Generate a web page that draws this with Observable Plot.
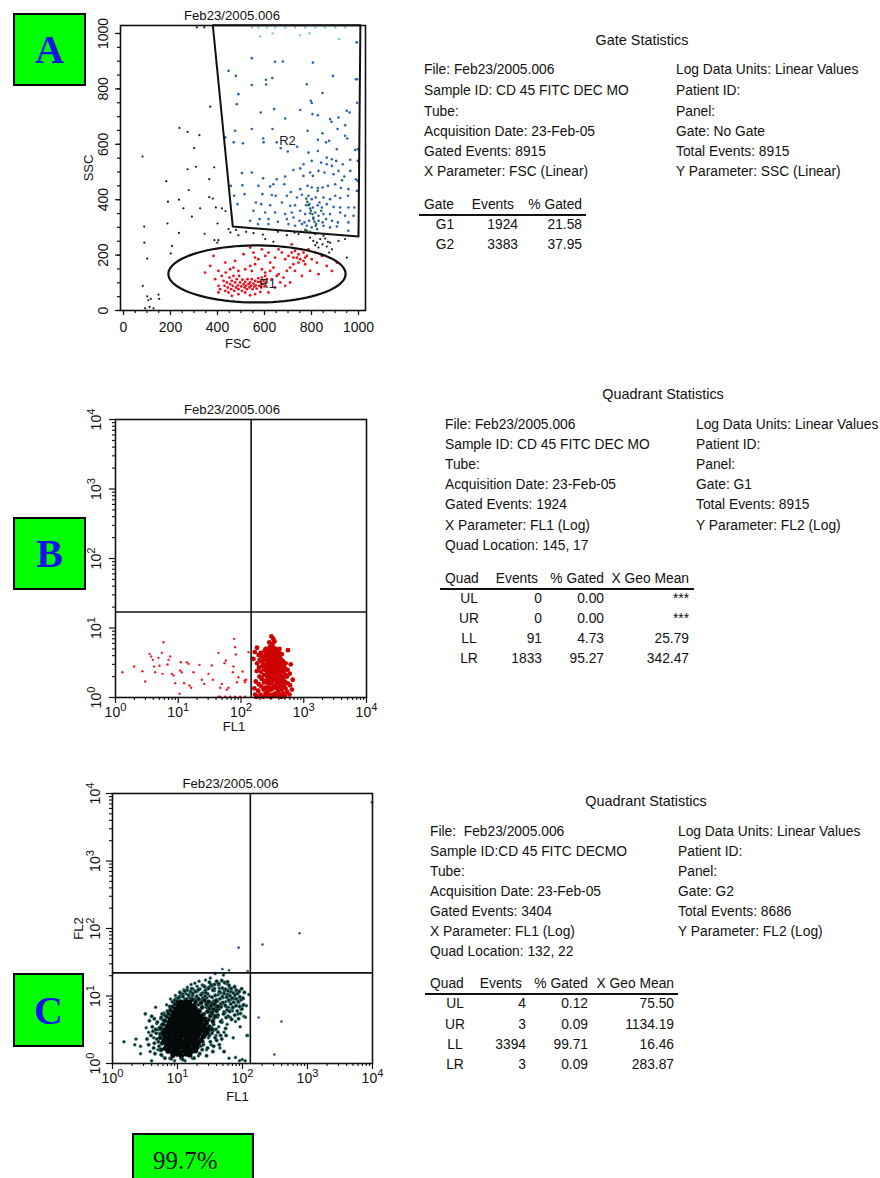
<!DOCTYPE html>
<html><head><meta charset="utf-8">
<script src="https://cdn.jsdelivr.net/npm/d3@7"></script>
<script src="https://cdn.jsdelivr.net/npm/@observablehq/plot@0.6"></script>
<style>
html,body{margin:0;padding:0;background:#fff;}
#page{position:relative;width:880px;height:1178px;overflow:hidden;font-family:"Liberation Sans",Arial,Helvetica,sans-serif;color:#111;}
.abs{position:absolute;white-space:pre;}
.badge{position:absolute;background:#00ff00;border:2px solid #000;box-sizing:border-box;font-family:"Liberation Serif","Times New Roman",serif;font-weight:bold;color:#1414e6;display:flex;align-items:center;justify-content:center;}
.panel{position:absolute;left:0;}
.rule{position:absolute;height:2px;background:#111;}
</style></head><body><div id="page"></div>
<script>
// ---------- Panel A: FSC / SSC (linear), gates R1 and R2 ----------
const fileName = "Feb23/2005.006";
const linTicks = [0, 200, 400, 600, 800, 1000];
const linMinor = [0,50,100,150,200,250,300,350,400,450,500,550,600,650,700,750,800,850,900,950,1000];

// events outside both gates
const eventsOther = [
[81,556],[238,659],[273,645],[323,633],[301,586],[369,736],[273,510],[308,519],[386,517],[365,474],[182,467],[278,435],[189,393],[236,400],[365,409],[380,404],[326,369],[255,369],[393,372],[419,369],[291,339],[187,314],[345,277],[236,280],[88,303],[400,314],[434,359],[89,245],[206,233],[101,187],[201,206],[82,89],
[101,51],[106,37],[116,42],[92,8],[111,13],[128,8],[149,57],[152,42],
[447,294],[455,282],[479,291],[522,284],[553,279],[593,274],[657,284],[695,272],[728,281],[745,276],[780,288],[387,254],[404,254],[399,245],
[794,263],[808,251],[823,245],[837,258],[847,239],[858,260],[870,248],[865,231],[879,245],[830,227],[816,236],[887,221],[875,209],[950,191],[915,251],[943,258],[851,270],
[489,272],[603,258],[638,248],[312,1022],[344,1022]
];
// events in R2 (granulocyte region)
const eventsR2High = [
[546,1022],[574,1022],[610,1022],[645,1022],[688,1022],[730,1022],[773,1022],[816,1022],[858,1022],[901,1022],[943,1022],
[582,989],[634,1000],[752,994],[791,1001],[918,980],[989,968]
];
const eventsR2 = [
[546,911],[645,898],[678,899],[806,895],[447,865],[478,847],[546,814],[606,833],[633,839],[607,816],[780,817],[891,847],[989,835],[847,785],[797,757],[801,749],[489,781],[482,745],[584,715],[641,727],[752,724],[804,709],[827,705],[950,721],[962,715],[688,693],[879,691],[915,697],[885,681],[943,669],[911,655],
[433,625],[475,649],[546,655],[634,655],[469,607],[508,604],[594,621],[596,607],[652,607],[783,649],[827,616],[847,640],[875,613],[862,607],[943,631],[952,621],[986,580],[699,574],[669,586],[739,591],[787,570],[827,576],[908,582],[865,552],[887,546],[933,528],[965,544],[997,540],[766,528],[801,540],[841,534],[865,528],[887,522],
[504,496],[546,498],[594,477],[652,474],[688,484],[723,507],[752,513],[766,486],[794,498],[806,486],[830,504],[855,498],[894,492],[915,504],[940,484],[965,504],[989,474],
[457,450],[506,452],[574,450],[624,448],[638,456],[684,456],[712,428],[752,438],[783,450],[801,444],[827,442],[847,444],[870,450],[901,456],[925,442],[957,438],[993,432],
[471,414],[515,420],[591,420],[631,417],[648,414],[695,414],[738,408],[759,418],[787,414],[801,402],[818,408],[834,390],[851,408],[879,402],[901,414],[922,406],[955,414],
[485,384],[563,390],[586,384],[624,380],[674,390],[709,378],[730,380],[777,380],[791,384],[806,372],[826,380],[844,372],[865,384],[894,374],[922,372],[957,372],[982,372],
[553,360],[603,354],[645,354],[688,348],[716,354],[752,360],[773,348],[794,351],[816,354],[830,342],[851,348],[879,348],[922,354],[943,342],[979,342],
[539,324],[579,330],[617,330],[657,320],[695,330],[723,336],[749,324],[770,318],[790,324],[808,330],[830,324],[847,318],[887,324],[912,318],[957,318],
[572,312],[617,312],[702,312],[730,306],[759,312],[780,306],[801,300],[820,312],[851,306],[879,300],[908,303],[957,288],
[993,968],[994,835],[997,582],[996,468],[994,750]
];
const eventsR2Dense = [
[778,404],[782,392],[787,380],[794,368],[798,360],[804,348],[808,336],[813,320],[818,306],[824,294],
[773,291],[794,284],[816,276],[756,284],[841,360],[862,330],[826,432],[905,540],[930,470]
];
// events in R1 (lymphocyte region)
const eventsR1 = [
[390,113],[404,89],[411,77],[418,125],[426,107],[430,89],[433,71],[435,137],[440,101],[444,83],[447,65],[451,119],[454,95],[458,77],[461,107],[465,89],[468,125],[471,71],[475,101],[479,83],[482,113],[487,91],[489,77],[492,125],[496,101],[501,87],[504,71],[506,111],[511,95],[515,83],[518,103],[521,89],[525,77],[528,113],[532,95],[536,83],[539,101],[543,89],[546,113],[549,77],[553,97],[557,86],[560,107],[563,91],[567,79],[572,103],[574,116],[577,89],[582,103],[586,83],[589,119],[591,95],[596,107],[600,87],[603,125],[606,101],[610,113],
[433,173],[468,155],[489,143],[518,149],[539,161],[560,167],[546,143],[589,149],[603,137],[624,143],[638,155],[660,131],[681,119],[695,143],[709,155],[723,167],[745,173],[766,179],[780,197],[801,185],[823,173],[844,197],[865,161],[887,143],[908,173],[702,197],[716,209],[730,215],[745,203],[756,221],[766,209],[773,191],[738,191],[752,185],[723,191],[688,185],[674,209],[645,191],[624,173],[603,197],[574,185],[553,209],[539,227],[511,203],[475,179],[454,149],[404,143],[369,161],[383,197],[347,137],[404,65],[617,65],[645,83],[667,101],[688,89],[709,101],[631,113],[652,125],[759,125],[794,143],[830,131],[816,209],[787,221],[716,239],[660,221],[617,209],[589,221],[560,191],[773,167],[730,143],[461,53],[489,59],[518,65],[560,59],[539,55],[582,67]
];
// gate definitions (FSC, SSC)
const gateR2 = [[380,1030],[465,303],[1000,267],[1008,1030]];
const gateR1Center = [568, 132];
const gateR1Radii = [377, 103];
const gateNames = ["R2", "R1"];
const gateLabelPos = [[698, 614], [613, 97]];

// ---------- Panel B: FL1 / FL2 (log), gate G1 ----------
const decades = [1, 10, 100, 1000, 10000];
const decadeLabels = ["10\u2070", "10\u00b9", "10\u00b2", "10\u00b3", "10\u2074"];
const quadB = [145, 17];
const eventsB_LL = [
[1.29,2.31],[1.98,2.79],[2.69,2.39],[2.97,1.70],[3.48,4.25],[3.70,3.89],[3.94,3.48],[4.13,2.79],[4.29,2.31],[4.84,3.72],[5.02,2.86],[5.48,4.39],[5.82,6.25],[5.61,2.19],[6.74,2.98],[6.99,3.48],[7.43,3.89],[7.90,2.19],[8.40,2.07],[8.93,1.61],[10.5,1.13],[11.0,3.22],[10.7,2.45],[11.4,2.31],[12.4,1.61],[13.7,3.22],[14.6,3.05],[15.1,1.49],[16.1,1.38],[17.5,2.31],[21.8,2.95],[23.8,1.80],[25.9,1.57],[30.3,2.19],[34.3,2.89],[35.6,1.80],[43.8,4.39],[46.6,1.38],[49.5,1.57],[54.6,3.12],[57.3,3.41],[59.4,1.29],[63.2,1.38],[74.1,2.31],[75.9,2.79],[77.8,6.98],[80.7,5.30],[82.7,4.16],[85.9,1.66],[91.2,1.96],[106,2.37],[114,1.76],[116,1.66],[121,1.80],[132,4.49],[46.6,1.03],[43.8,1.03],[55.9,1.03],[67.2,1.03],[80.7,1.03],[97.0,1.03],[116,1.03]
];
const eventsB_LR = [
[168,1.1],[172,1.7],[178,2.4],[181,3.1],[163,1.35],[176,1.02],
[188,1.25],[192,1.55],[197,2.0],[194,2.7],[199,3.5],[191,4.1],[186,1.05],
[205,1.1],[211,1.45],[214,1.85],[209,2.35],[217,2.8],[212,3.3],[219,3.9],[207,4.4],
[226,1.02],[229,1.3],[234,1.65],[231,2.1],[237,2.55],[228,3.0],[236,3.5],[233,4.0],[238,4.7],
[246,1.15],[251,1.4],[248,1.75],[254,2.15],[245,2.5],[252,2.95],[256,3.4],[249,3.95],[255,4.5],[247,5.0],
[264,1.05],[267,1.25],[271,1.6],[266,1.95],[273,2.3],[269,2.75],[275,3.15],[262,3.7],[270,4.3],[276,4.9],
[283,1.1],[287,1.4],[281,1.75],[289,2.05],[285,2.45],[291,2.85],[282,3.3],[288,3.85],[293,4.55],[286,5.3],
[298,1.02],[303,1.3],[300,1.6],[306,1.95],[297,2.25],[304,2.6],[309,3.0],[301,3.45],[307,4.15],[299,4.85],[305,5.5],
[316,1.1],[321,1.35],[314,1.7],[324,2.05],[318,2.45],[326,2.9],[313,3.35],[322,3.8],[317,4.5],[325,5.15],[319,5.9],
[333,1.05],[338,1.45],[331,1.8],[340,2.3],[336,2.65],[343,3.05],[334,3.6],[341,4.1],[337,4.7],
[352,1.15],[357,1.5],[350,1.85],[360,2.2],[354,2.6],[362,3.15],[349,3.7],[358,4.35],[355,5.05],
[371,1.05],[376,1.35],[369,1.7],[379,2.1],[373,2.5],[381,2.95],[368,3.5],[377,4.0],[372,4.75],
[394,1.2],[399,1.55],[391,1.9],[402,2.35],[396,2.8],[404,3.3],[390,3.9],[400,4.45],
[415,1.1],[421,1.4],[418,1.75],[425,2.2],[412,2.6],[423,3.1],[417,3.7],
[440,1.02],[446,1.3],[438,1.65],[450,2.0],[443,2.45],[452,2.9],[436,3.5],[447,4.2],
[470,1.15],[478,1.5],[466,1.9],[481,2.3],[474,2.8],[468,3.3],
[503,1.05],[512,1.35],[498,1.7],[517,2.1],[507,2.6],[514,3.1],
[545,1.2],[556,1.6],[540,2.0],[552,2.5],
[594,1.1],[605,1.5],[598,2.2],
[648,1.3],[668,1.8],
[305,7.6],[326,7.0],[342,6.4],[282,6.2],[560,4.8],[166,4.5],[158,3.6],[180,5.2],[410,5.0],[620,3.0]
];

// ---------- Panel C: FL1 / FL2 (log), gate G2 ----------
const quadC = [132, 22];
const eventsC_outer = [
[1.5,2.1],[2.2,1.9],[2.7,1.8],[3.2,5.5],[3.3,3.4],[3.6,2.9],[3.8,1.5],[4.0,1.1],[4.3,2.4],[4.6,6.8],[4.8,3.9],[5.0,1.6],[5.3,2.8],[5.5,4.6],[5.8,1.3],[6.0,3.3],[6.2,5.6],[6.4,2.1],[6.8,7.4],[6.9,1.5],[7.1,4.2],[7.3,2.6],[7.6,1.2],[7.8,9.0],[8.0,3.0],[8.2,5.8],[8.5,1.8],[8.8,7.6],[9.0,1.1],[9.3,10.2],[9.5,2.3],[9.8,4.8],[10.2,1.4],[10.5,8.8],[10.8,11.5],[11.2,1.2],[11.8,9.9],[12.5,12.4],[13.0,1.1],[13.5,10.8],[14.2,13.5],[15.0,1.3],[15.5,11.8],[16.2,14.8],[17.0,1.2],[17.5,12.6],[18.5,15.5],[19.0,1.5],[20.0,13.9],[21.0,1.3],[21.5,16.6],[22.5,10.6],[23.0,1.8],[24.0,14.6],[25.0,2.1],[26.0,11.5],[27.0,17.2],[28.0,1.6],[29.0,13.2],[30.0,2.4],[31.0,10.0],[32.0,18.5],[33.0,1.9],[34.0,14.0],[35.0,3.0],[36.0,8.5],[37.0,12.0],[38.0,21.5],[39.0,2.6],[40.0,16.0],[41.0,6.2],[42.0,10.4],[43.0,3.5],[44.0,13.0],[45.0,1.7],[46.0,7.8],[47.0,11.2],[48.0,4.4],[50.0,9.4],[51.0,20.5],[52.0,2.9],[53.0,12.5],[54.0,5.6],[55.0,8.2],[57.0,15.2],[58.0,3.8],[60.0,10.6],[61.0,6.8],[62.0,1.2],[63.0,13.4],[65.0,4.8],[66.0,8.8],[68.0,11.8],[70.0,6.0],[72.0,2.4],[74.0,9.6],[76.0,14.0],[78.0,4.2],[80.0,7.4],[82.0,11.0],[85.0,5.4],[88.0,8.0],[90.0,1.1],[92.0,3.5],[95.0,6.4],[100.0,9.5],[105.0,5.0],[110.0,1.1],[115.0,7.2],[120.0,2.6],[125.0,10.5],
[111,4.85],[100,7.2],[78,1.23],[99,1.15],[117,2.6],[2.3,2.3],[2.7,1.4],[3.2,5.4]
];
const eventsC_mid = [
[30,4.4],[33,5.2],[35,6.1],[38,7.3],[31,8.2],[28,6.8],[26,5.5],[36,3.8],[41,4.9],[44,6.5],[40,8.8],[47,7.6],[52,5.8],[49,9.8],[56,7.0],[58,10.4],[45,11.2],[34,9.6],[29,10.8],[24,8.6],[22,6.2],[27,12.2],[37,12.8],[53,12.0],[62,8.4],[66,11.6],[70,6.6],[60,5.0],[39,3.2],[33,3.4],[23,4.8],[21,7.4],[19,9.2],[17,10.2],[15,9.6],[13,9.0],[16,11.4],[20,11.8],[12,10.6],[25,14.2],[31,13.6],[43,14.6],[48,4.1],[55,3.3],[64,6.0],[73,9.2],[5.6,1.35],[5.2,1.8],[4.8,2.3],[5.4,2.7],[5.0,3.2],[5.7,3.7],[6.0,4.4],[4.4,2.0],[4.2,3.0],[6.3,5.2],[7.0,6.0],[7.6,7.0],[8.4,8.2],[9.6,9.2],[10.8,9.8],[35,1.5],[28,1.3],[24,1.6],[40,2.2],[46,2.6],[31,2.6],[26,3.6],[18,1.2],[12,1.15],[8,1.18],
[32,5.8],[34,7.9],[36,4.6],[38,10.2],[39,6.6],[41,8.4],[42,5.2],[44,11.6],[45,9.1],[46,4.2],[47,6.9],[49,13.1],[50,8.0],[51,5.4],[52,10.9],[54,7.3],[55,12.6],[56,4.8],[57,9.6],[58,6.2],[60,11.9],[61,8.7],[62,14.4],[63,5.9],[64,10.1],[66,7.6],[67,12.9],[68,4.5],[69,9.3],[71,6.8],[72,11.1],[73,8.1],[75,13.6],[76,5.2],[77,10.4],[79,7.1],[80,12.2],[81,9.0],[83,6.0],[84,10.9],[86,8.3],[87,4.6],[89,11.7],[90,7.0],[91,9.7],[93,5.5],[95,8.8],[97,12.8],[98,6.4],[102,9.2],[104,7.4],[107,11.3],[35,12.2],[37,14.8],[40,16.5],[43,15.3],[48,16.9],[53,15.8],[59,16.2],[28,9.4],[29,7.2],[27,11.2],[30,12.9],[33,14.6],[24,11.0],[22,12.7],[26,13.8],[31,15.9],
[9.0,8.6],[10.3,9.4],[11.2,8.4],[12.1,9.8],[13.8,8.9],[14.8,10.3],[15.9,9.2],[17.2,10.9],[18.6,8.7],[19.8,9.9],[21.3,8.9],[23.1,10.4],[24.7,9.3],[26.5,9.9],[14.0,12.2],[16.5,12.8],[18.9,11.6],[21.0,12.4],[11.0,11.2],[12.9,11.8],
[3.6,1.9],[3.9,2.6],[4.1,3.5],[4.5,1.4],[4.7,2.8],[4.9,4.1],[5.1,2.1],[5.3,3.4],[5.5,1.6],[5.6,4.8],[5.9,2.5],[6.1,3.8],[3.7,4.3],[4.3,1.7],[4.6,3.2],[5.8,5.4],[6.4,1.2],[3.4,2.3],[4.0,5.0],[4.4,4.6],
[22,1.4],[25,1.9],[27,2.6],[29,1.7],[32,2.1],[34,2.8],[36,1.8],[38,2.4],[42,2.9],[44,1.9],[48,2.3],[52,1.5],[56,2.6],[30,3.0],[24,2.5]
];
// transition zone between the dense core and the outer cloud
const eventsC_shoulder = [
[24,3.0],[26,3.4],[28,3.9],[30,4.5],[32,5.1],[27,4.6],[25,5.3],[29,5.9],[31,6.6],[34,5.6],[36,6.3],[33,7.2],[28,7.6],[24,6.8],[22,6.0],[23,7.9],[26,8.6],[30,8.2],[35,4.2],[38,5.0],[37,7.6],[40,6.0],[42,7.0],[39,8.4],[21,9.0],[19,8.2],[17,8.8],[31,3.5],[34,3.2],[29,2.8],[26,2.6],
[5.6,1.6],[5.8,2.0],[5.4,2.4],[5.9,2.9],[5.5,3.3],[6.0,3.8],[6.4,4.3],[6.9,4.9],[7.3,5.5],[7.8,6.2],[8.4,6.9],[9.2,7.6],[10.0,8.2]
];
const eventsC_core = [
[8.5,1.33],[10.0,1.37],[11.5,1.31],[13.5,1.38],[15.5,1.34],
[7.2,1.52],[8.4,1.47],[9.6,1.54],[11.0,1.49],[12.6,1.53],[14.4,1.46],[16.5,1.51],[19.0,1.55],
[6.5,1.68],[7.6,1.73],[8.8,1.66],[10.1,1.71],[11.6,1.75],[13.2,1.69],[15.1,1.72],[17.3,1.67],[20.0,1.74],
[6.8,1.93],[7.9,1.98],[9.1,1.91],[10.4,1.96],[11.9,2.0],[13.6,1.92],[15.6,1.97],[17.9,1.94],[21.0,1.99],
[6.2,2.18],[7.3,2.23],[8.4,2.16],[9.7,2.21],[11.1,2.25],[12.7,2.17],[14.6,2.22],[16.8,2.19],[19.4,2.24],[23.0,2.2],
[6.6,2.47],[7.7,2.53],[8.9,2.45],[10.2,2.51],[11.7,2.56],[13.4,2.48],[15.4,2.52],[17.7,2.46],[20.5,2.54],[25.0,2.5],
[6.1,2.82],[7.1,2.88],[8.2,2.8],[9.4,2.86],[10.8,2.91],[12.4,2.83],[14.2,2.87],[16.3,2.81],[18.8,2.89],[22.0,2.84],[27.0,2.86],
[6.5,3.16],[7.6,3.23],[8.8,3.14],[10.1,3.2],[11.6,3.26],[13.3,3.17],[15.3,3.22],[17.6,3.15],[20.3,3.24],[24.0,3.19],[29.0,3.21],
[7.0,3.55],[8.1,3.63],[9.3,3.57],[10.7,3.61],[12.3,3.66],[14.1,3.54],[16.2,3.62],[18.7,3.58],[21.6,3.64],[25.5,3.6],
[7.4,4.0],[8.6,4.09],[9.9,4.02],[11.4,4.07],[13.1,4.12],[15.0,3.98],[17.2,4.06],[19.8,4.03],[23.0,4.1],[27.5,4.04],
[7.8,4.5],[9.0,4.6],[10.4,4.52],[12.0,4.57],[13.8,4.62],[15.9,4.49],[18.3,4.56],[21.1,4.53],[24.5,4.58],
[8.3,5.05],[9.6,5.14],[11.0,5.07],[12.7,5.12],[14.6,5.17],[16.8,5.04],[19.3,5.11],[22.3,5.08],
[8.8,5.7],[10.1,5.8],[11.7,5.72],[13.4,5.78],[15.4,5.83],[17.7,5.69],[20.4,5.76],
[9.4,6.4],[10.8,6.5],[12.4,6.42],[14.3,6.48],[16.4,6.53],[18.9,6.44],
[10.2,7.2],[11.8,7.3],[13.6,7.22],[15.6,7.28],[18.0,7.24],
[11.5,8.05],[13.3,8.15],[15.3,8.08]
];
const eventsC_UL = [[87,52],[49,25],[62,24],[120,23.5]];
const eventsC_UR = [[203,58],[752,85],[9800,7400]];
const eventsC_LR = [[177,4.8],[398,4.2],[310,1.36]];

// ---------- statistics text ----------
const gateLeft = ["File: Feb23/2005.006","Sample ID: CD 45 FITC DEC MO","Tube:","Acquisition Date: 23-Feb-05","Gated Events: 8915","X Parameter: FSC (Linear)"];
const gateRight = ["Log Data Units: Linear Values","Patient ID:","Panel:","Gate: No Gate","Total Events: 8915","Y Parameter: SSC (Linear)"];
const gateHeader = ["Gate","Events","% Gated"];
const gateRows = [["G1","1924","21.58"],["G2","3383","37.95"]];

const quadBLeft = ["File: Feb23/2005.006","Sample ID: CD 45 FITC DEC MO","Tube:","Acquisition Date: 23-Feb-05","Gated Events: 1924","X Parameter: FL1 (Log)","Quad Location: 145, 17"];
const quadBRight = ["Log Data Units: Linear Values","Patient ID:","Panel:","Gate: G1","Total Events: 8915","Y Parameter: FL2 (Log)"];
const quadHeader = ["Quad","Events","% Gated","X Geo Mean"];
const quadBRows = [["UL","0","0.00","***"],["UR","0","0.00","***"],["LL","91","4.73","25.79"],["LR","1833","95.27","342.47"]];

const quadCLeft = ["File:  Feb23/2005.006","Sample ID:CD 45 FITC DECMO","Tube:","Acquisition Date: 23-Feb-05","Gated Events: 3404","X Parameter: FL1 (Log)","Quad Location: 132, 22"];
const quadCRight = ["Log Data Units: Linear Values","Patient ID:","Panel:","Gate: G2","Total Events: 8686","Y Parameter: FL2 (Log)"];
const quadCRows = [["UL","4","0.12","75.50"],["UR","3","0.09","1134.19"],["LL","3394","99.71","16.46"],["LR","3","0.09","283.87"]];

const panelLetters = ["A", "B", "C"];
const resultLabel = "99.7%";

// =====================================================================
const FONT = '"Liberation Sans", Arial, Helvetica, sans-serif';
const STAT_SIZE = 13.8;
const page = document.getElementById("page");
const px = d => d[0], py = d => d[1];

function put(text, x, y, align = "left", size = STAT_SIZE) {
  const el = document.createElement("div");
  el.className = "abs";
  el.textContent = text;
  el.style.fontSize = size + "px";
  el.style.lineHeight = "16px";
  el.style.top = (y - 8) + "px";
  if (align === "left") el.style.left = x + "px";
  else if (align === "right") { el.style.left = (x - 300) + "px"; el.style.width = "300px"; el.style.textAlign = "right"; }
  else { el.style.left = (x - 150) + "px"; el.style.width = "300px"; el.style.textAlign = "center"; }
  page.appendChild(el);
  return el;
}
// turn "10⁰"-style labels into "10" with a raised exponent
const supDigits = {"\u2070": "0", "\u00b9": "1", "\u00b2": "2", "\u00b3": "3", "\u2074": "4"};
function liftExponents(svg) {
  const ns = "http://www.w3.org/2000/svg";
  svg.querySelectorAll("text").forEach(t => {
    const m = /^10([\u2070\u00b9\u00b2\u00b3\u2074])$/.exec(t.textContent);
    if (!m) return;
    t.textContent = "";
    const base = document.createElementNS(ns, "tspan");
    base.textContent = "10";
    const sup = document.createElementNS(ns, "tspan");
    sup.textContent = supDigits[m[1]];
    sup.setAttribute("dy", "-0.5em");
    sup.setAttribute("font-size", "0.8em");
    t.append(base, sup);
  });
}
function mount(svg, top) {
  liftExponents(svg);
  const d = document.createElement("div");
  d.className = "panel";
  d.style.top = top + "px";
  d.appendChild(svg);
  page.appendChild(d);
}
const tickText = {fontSize: 14, fill: "#111", lineAnchor: "middle", textAnchor: "middle"};
const nameText = {fontSize: 13, fill: "#111", lineAnchor: "middle", textAnchor: "middle"};
const titleText = {fontSize: 13.2, fill: "#111", lineAnchor: "middle", textAnchor: "middle"};

// ---- Panel A ----
const r1Outline = d3.range(0, 360, 4).map(a => [
  gateR1Center[0] + gateR1Radii[0] * Math.cos(a * Math.PI / 180),
  gateR1Center[1] + gateR1Radii[1] * Math.sin(a * Math.PI / 180)
]);
const plotA = Plot.plot({
  width: 380, height: 355,
  marginLeft: 120, marginRight: 15, marginTop: 25, marginBottom: 45,
  style: {fontFamily: FONT, background: "transparent", overflow: "visible"},
  x: {domain: [0, 1000], insetLeft: 3, insetRight: 7, axis: null},
  y: {domain: [0, 1000], insetTop: 8, axis: null},
  marks: [
    Plot.dot(eventsOther, {x: px, y: py, r: 1.1, fill: "#1c1c1c"}),
    Plot.dot(eventsR2High, {x: px, y: py, r: 1.2, fill: "#7fc8dc"}),
    Plot.dot(eventsR2, {x: px, y: py, r: 1.3, fill: "#2d62b0"}),
    Plot.dot(eventsR2Dense, {x: px, y: py, r: 1.3, fill: "#2a6e52"}),
    Plot.dot(eventsR1, {x: px, y: py, r: 1.4, fill: "#e8141e"}),
    Plot.line(gateR2, {x: px, y: py, stroke: "#111", strokeWidth: 2, curve: "linear-closed"}),
    Plot.line(r1Outline, {x: px, y: py, stroke: "#111", strokeWidth: 2.2, curve: "linear-closed"}),
    Plot.text(gateNames, {x: (d, i) => gateLabelPos[i][0], y: (d, i) => gateLabelPos[i][1], text: d => d, ...nameText, fill: "#222"}),
    Plot.frame({stroke: "#111", strokeWidth: 1.6}),
    Plot.axisX(linMinor, {tickSize: 3, tickFormat: () => "", label: null, strokeWidth: 1.2}),
    Plot.axisY(linMinor, {tickSize: 3, tickFormat: () => "", label: null, strokeWidth: 1.2}),
    Plot.axisX(linTicks, {tickSize: 5, tickFormat: () => "", label: null, strokeWidth: 1.2}),
    Plot.axisY(linTicks, {tickSize: 5, tickFormat: () => "", label: null, strokeWidth: 1.2}),
    Plot.text(linTicks, {x: d => d, frameAnchor: "bottom", dy: 17, text: d => String(d), ...tickText}),
    Plot.text(linTicks, {y: d => d, frameAnchor: "left", dx: -17, rotate: -90, text: d => String(d), ...tickText}),
    Plot.text(["FSC"], {frameAnchor: "bottom", dy: 33, dx: -5, text: d => d, ...nameText}),
    Plot.text(["SSC"], {frameAnchor: "left", dx: -32, rotate: -90, text: d => d, ...nameText}),
    Plot.text([fileName], {frameAnchor: "top", dy: -10, dx: -11, text: d => d, ...titleText})
  ]
});
mount(plotA, 0);

// ---- log panels ----
const logMinor = decades.slice(0, 4).flatMap(d => [2,3,4,5,6,7,8,9].map(k => k * d));
function logPanel(o) {
  return Plot.plot({
    width: 380, height: o.height,
    marginLeft: o.ml, marginRight: o.mr, marginTop: o.mt, marginBottom: o.mb,
    style: {fontFamily: FONT, background: "transparent", overflow: "visible"},
    x: {type: "log", domain: [1, 10000], axis: null},
    y: {type: "log", domain: [1, 10000], axis: null},
    marks: [
      ...o.marks,
      Plot.ruleX([o.quad[0]], {stroke: "#111", strokeWidth: 1.6}),
      Plot.ruleY([o.quad[1]], {stroke: "#111", strokeWidth: 1.6}),
      Plot.frame({stroke: "#111", strokeWidth: 1.6}),
      Plot.axisX(logMinor, {tickSize: 3, tickFormat: () => "", label: null, strokeWidth: 1.1}),
      Plot.axisY(logMinor, {tickSize: 3, tickFormat: () => "", label: null, strokeWidth: 1.1}),
      Plot.axisX(decades, {tickSize: 6, tickFormat: () => "", label: null, strokeWidth: 1.2}),
      Plot.axisY(decades, {tickSize: 6, tickFormat: () => "", label: null, strokeWidth: 1.2}),
      Plot.text(decades, {x: d => d, frameAnchor: "bottom", dy: o.xTickDy, text: (d, i) => decadeLabels[i], ...tickText}),
      Plot.text(decades, {y: d => d, frameAnchor: "left", dx: o.yTickDx, rotate: -90, text: (d, i) => decadeLabels[i], ...tickText}),
      Plot.text(["FL1"], {frameAnchor: "bottom", dy: o.xLabDy, dx: o.xLabDx, text: d => d, ...nameText}),
      ...(o.yLabel ? [Plot.text([100], {y: d => d, frameAnchor: "left", dx: -34, rotate: -90, text: () => o.yLabel, ...nameText})] : []),
      Plot.text([fileName], {frameAnchor: "top", dy: -10, dx: o.titleDx, text: d => d, ...titleText})
    ]
  });
}

const plotB = logPanel({
  height: 360, ml: 115, mr: 14, mt: 39, mb: 43, quad: quadB,
  xTickDy: 15, yTickDx: -19, xLabDy: 29, xLabDx: -7, titleDx: -9,
  marks: [
    Plot.dot(eventsB_LL, {x: px, y: py, r: 1.2, fill: "#e8202a"}),
    Plot.dot(eventsB_LR, {x: px, y: py, r: 2.4, fill: "#cf0000"})
  ]
});
mount(plotB, 380);

const plotC = logPanel({
  height: 345, ml: 112, mr: 8, mt: 33, mb: 42, quad: quadC,
  xTickDy: 15, yTickDx: -17, xLabDy: 33, xLabDx: -5, titleDx: -12,
  yLabel: "FL2",
  marks: [
    Plot.dot(eventsC_outer, {x: px, y: py, r: 1.5, fill: "#0d1f22", stroke: "#4f9a94", strokeWidth: 0.6}),
    Plot.dot(eventsC_mid, {x: px, y: py, r: 1.8, fill: "#0a1a1c", stroke: "#449089", strokeWidth: 0.6}),
    Plot.dot(eventsC_shoulder, {x: px, y: py, r: 2.2, fill: "#071313", stroke: "#2f6f6a", strokeWidth: 0.5}),
    Plot.dot(eventsC_core, {x: px, y: py, r: 2.6, fill: "#040909"}),
    Plot.dot([...eventsC_UL, ...eventsC_UR, ...eventsC_LR], {x: px, y: py, r: 1.3, fill: "#2c5a8c"})
  ]
});
mount(plotC, 760);

// ---- statistics blocks ----
function statsBlock(s) {
  put(s.title, s.titleX, s.titleY, "center", 14.4);
  s.left.forEach((t, i) => put(t, s.leftX, s.lineY[i]));
  s.right.forEach((t, i) => put(t, s.rightX, s.lineY[i]));
  put(s.header[0], s.leftX, s.headY);
  s.header.slice(1).forEach((t, i) => put(t, s.colRight[i] - (i === 0 ? 4 : 0), s.headY, "right"));
  const rule = document.createElement("div");
  rule.className = "rule";
  rule.style.left = s.ruleX0 + "px";
  rule.style.width = (s.ruleX1 - s.ruleX0) + "px";
  rule.style.top = (s.ruleY - 1) + "px";
  page.appendChild(rule);
  s.rows.forEach((row, r) => {
    put(row[0], s.labelX, s.rowY[r], "center");
    row.slice(1).forEach((t, i) => put(t, s.colRight[i], s.rowY[r], "right"));
  });
}
statsBlock({title: "Gate Statistics", titleX: 642, titleY: 40, left: gateLeft, right: gateRight,
  leftX: 424, rightX: 676, lineY: [70, 91, 112, 132, 152, 172],
  header: gateHeader, headY: 205, ruleX0: 419, ruleX1: 586, ruleY: 215,
  rows: gateRows, rowY: [225, 245], labelX: 445, colRight: [518, 582]});
statsBlock({title: "Quadrant Statistics", titleX: 663, titleY: 394, left: quadBLeft, right: quadBRight,
  leftX: 445, rightX: 696, lineY: [425, 445, 465, 485, 505, 526, 546],
  header: quadHeader, headY: 579, ruleX0: 440, ruleX1: 694, ruleY: 589,
  rows: quadBRows, rowY: [599, 619, 639, 659], labelX: 469, colRight: [542, 604, 689]});
statsBlock({title: "Quadrant Statistics", titleX: 646, titleY: 801, left: quadCLeft, right: quadCRight,
  leftX: 430, rightX: 678, lineY: [832, 852, 872, 892, 912, 932, 952],
  header: quadHeader, headY: 984, ruleX0: 425, ruleX1: 678, ruleY: 994,
  rows: quadCRows, rowY: [1004, 1025, 1045, 1065], labelX: 455, colRight: [526, 588, 674]});

// ---- panel badges ----
const badgeBoxes = [[13, 13, 73, 73], [13, 517, 73, 73], [13, 973, 71, 74]];
panelLetters.forEach((t, i) => {
  const b = document.createElement("div");
  b.className = "badge";
  const [l, tp, w, h] = badgeBoxes[i];
  Object.assign(b.style, {left: l + "px", top: tp + "px", width: w + "px", height: h + "px", fontSize: "40px"});
  b.textContent = t;
  page.appendChild(b);
});
const res = document.createElement("div");
res.className = "badge";
Object.assign(res.style, {left: "132px", top: "1133px", width: "122px", height: "60px", fontSize: "25px",
  fontWeight: "normal", color: "#111", alignItems: "flex-start", justifyContent: "flex-start",
  paddingTop: "12px", paddingLeft: "19px"});
res.textContent = resultLabel;
page.appendChild(res);
</script></body></html>
